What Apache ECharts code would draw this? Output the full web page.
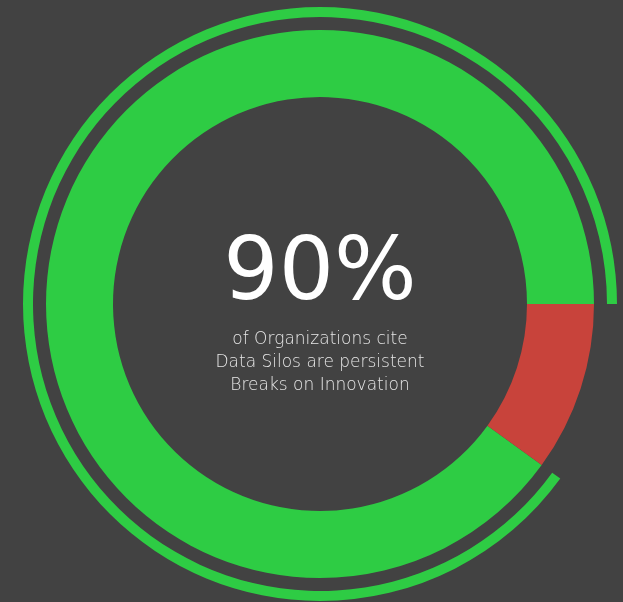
<!DOCTYPE html>
<html>
<head>
<meta charset="utf-8">
<script src="https://cdn.jsdelivr.net/npm/echarts@6/dist/echarts.min.js"></script>
<style>
  html, body { margin: 0; padding: 0; background: #424242; }
  #chart { width: 623px; height: 602px; }
</style>
</head>
<body>
<div id="chart"></div>
<script>
// share of organizations (percent)
var categories = ['Cite data silos', 'Other'];
var values = [90, 10];
var headline = '90%';
var captionLines = ['of Organizations cite', 'Data Silos are persistent', 'Breaks on Innovation'];

var GREEN = '#2ecc44';
var RED = '#c8433b';

var chart = echarts.init(document.getElementById('chart'));

chart.setOption({
    backgroundColor: '#424242',
    animation: false,
    series: [
        {
            type: 'pie',
            center: [320, 304],
            radius: [207, 274],
            startAngle: 0,
            clockwise: false,
            silent: true,
            label: { show: false },
            labelLine: { show: false },
            itemStyle: { borderWidth: 0 },
            data: categories.map(function(c, i) {
                return { name: c, value: values[i], itemStyle: { color: i === 0 ? GREEN : RED } };
            })
        },
        {
            // thin outer ring tracking the same share
            type: 'pie',
            center: [320, 304],
            radius: [287, 297],
            startAngle: 0,
            clockwise: false,
            silent: true,
            label: { show: false },
            labelLine: { show: false },
            itemStyle: { borderWidth: 0 },
            data: categories.map(function(c, i) {
                return { name: c, value: values[i], itemStyle: { color: i === 0 ? GREEN : 'transparent' } };
            })
        }
    ],
    graphic: [
        {
            type: 'text',
            x: 320, y: 276,
            style: {
                text: headline,
                fill: '#ffffff',
                font: '400 87px "DejaVu Sans"',
                textAlign: 'center',
                textVerticalAlign: 'middle'
            }
        },
        {
            type: 'text',
            x: 320, y: 363,
            style: {
                text: captionLines.join('\n'),
                fill: '#e6e6e6',
                font: '200 17px "DejaVu Sans"',
                lineHeight: 23,
                textAlign: 'center',
                textVerticalAlign: 'middle'
            }
        }
    ]
});
</script>
</body>
</html>
